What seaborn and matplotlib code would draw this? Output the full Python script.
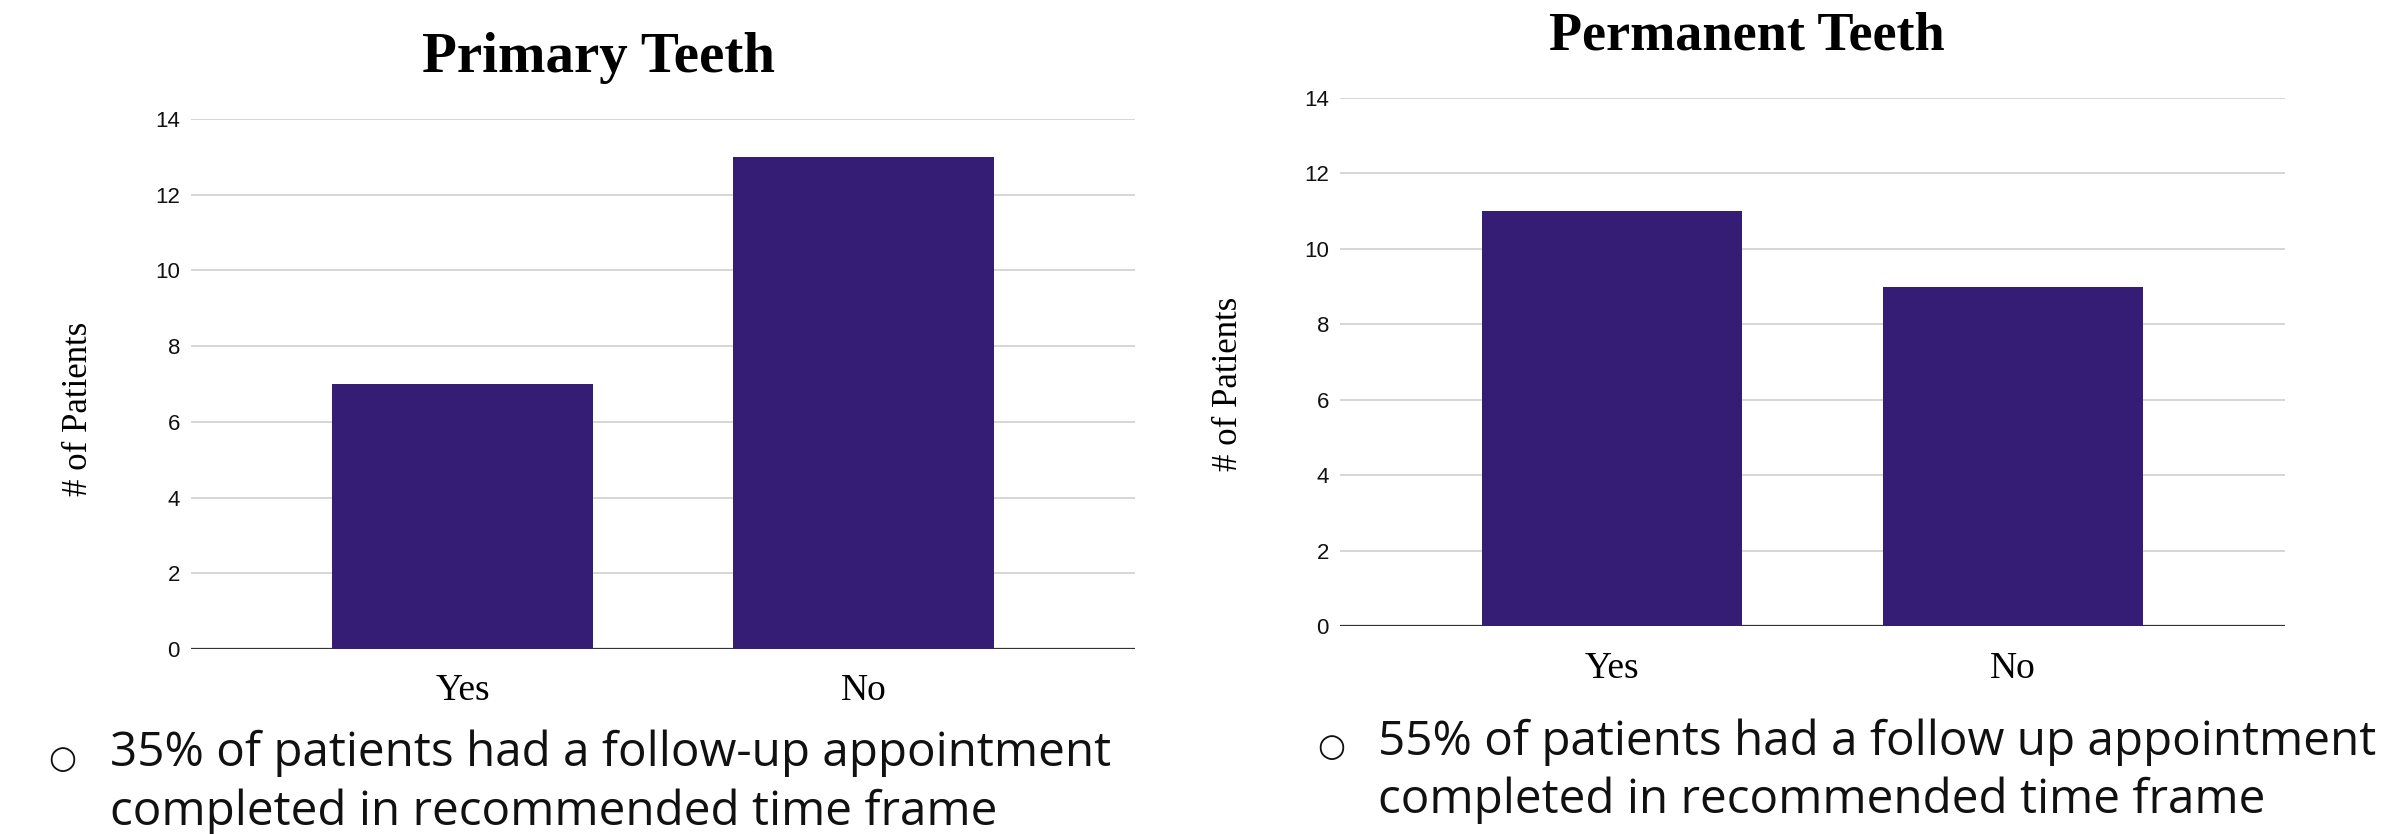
import matplotlib
matplotlib.use("Agg")
import matplotlib.pyplot as plt
import seaborn as sns
import pandas as pd
from matplotlib import font_manager

# ---- data ----
categories = ["Yes", "No"]
primary_values = [7, 13]
permanent_values = [11, 9]
y_ticks = [0, 2, 4, 6, 8, 10, 12, 14]
titles = ["Primary Teeth", "Permanent Teeth"]
y_label = "# of Patients"
notes_primary = ["35% of patients had a follow-up appointment",
                 "completed in recommended time frame"]
notes_permanent = ["55% of patients had a follow up appointment",
                   "completed in recommended time frame"]

BAR = "#351c75"
sns.set_theme(style="white")
plt.rcParams['font.family'] = ['DejaVu Sans']
plt.rcParams['text.color'] = 'black'

avail = {f.name for f in font_manager.fontManager.ttflist}
tick_font = "Liberation Sans Narrow" if "Liberation Sans Narrow" in avail else "Liberation Sans"

W, H = 2388, 834
fig = plt.figure(figsize=(W / 100, H / 100), dpi=100)
fig.patch.set_facecolor("white")

def ax_rect(x0, x1, y0px, y14px):
    return [x0 / W, 1 - y0px / H, (x1 - x0) / W, (y0px - y14px) / H]

specs = [
    (ax_rect(191, 1135, 649, 119), primary_values, titles[0], (598, 72), 41,
     (-0.102, 0.454), notes_primary, (62, 759), 110, (766, 825)),
    (ax_rect(1340, 2285, 626, 98), permanent_values, titles[1], (1747, 50), 39,
     (-0.1005, 0.458), notes_permanent, (1331, 748), 1378, (755, 813)),
]

for rect, vals, title, tpos, tsize, lab_xy, notes, bpos, tx, bases in specs:
    ax = fig.add_axes(rect)
    df = pd.DataFrame({"cat": categories, "val": vals})
    sns.barplot(data=df, x="cat", y="val", color=BAR, saturation=1,
                width=0.65, ax=ax, zorder=3, edgecolor="none")
    ax.set_xlim(-0.678, 1.678)
    ax.set_ylim(0, 14)
    ax.set_yticks(y_ticks)
    ax.set_yticklabels([str(t) for t in y_ticks], fontfamily=tick_font, fontsize=16)
    ax.set_xticks(range(len(categories)))
    ax.set_xticklabels(categories, fontfamily="Liberation Serif", fontsize=27)
    ax.tick_params(axis="y", length=0, pad=8, colors="#111111")
    ax.tick_params(axis="x", length=0, pad=18, colors="#000000")
    ax.set_xlabel("")
    ax.set_ylabel(y_label, fontfamily="Liberation Serif", fontsize=25, color="#000000")
    ax.yaxis.set_label_coords(*lab_xy)
    for s in ax.spines.values():
        s.set_visible(False)
    for t in y_ticks[1:]:
        ax.axhline(t, color="#cccccc", lw=1.1, zorder=1)
    ax.axhline(0, color="#333333", lw=1.6, zorder=2)
    ax.grid(False)

    fig.text(tpos[0] / W, 1 - tpos[1] / H, title, ha="center", va="baseline",
             fontfamily="Liberation Serif", fontweight="bold", fontsize=tsize,
             color="black")
    fig.text(bpos[0] / W, 1 - bpos[1] / H, "\u25cb", ha="center", va="center",
             family=["Open Sans", "DejaVu Sans"], fontsize=23, color="#111111")
    for line, b in zip(notes, bases):
        fig.text(tx / W, 1 - b / H, line, ha="left", va="baseline",
                 family=["Open Sans", "DejaVu Sans"], fontsize=34.3, color="#111111")

fig.savefig("out.png", dpi=100, facecolor="white")
